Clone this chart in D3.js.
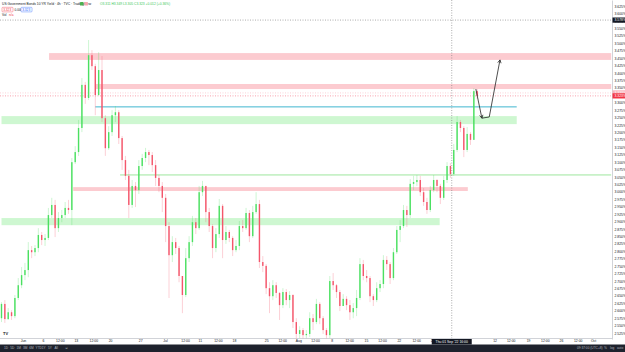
<!DOCTYPE html>
<html>
<head>
<meta charset="utf-8">
<script src="https://cdn.jsdelivr.net/npm/d3@7"></script>
<style>
    html, body {margin: 0; padding: 0; background: #fff;}
    svg {display: block; font-family: "Liberation Sans", Arial, sans-serif;}
</style>
</head>
<body>
<div id="chart"></div>
<script>
// US10Y, 4h chart, two candles per trading day (day 0 = 27 May 2022)
var firstOpen = 2.575;
var closes = [2.623, 2.572, 2.595, 2.582, 2.643, 2.686, 2.720, 2.737, 2.804, 2.797,
    2.811, 2.855, 2.838, 2.845, 2.922, 2.956, 2.878, 2.912, 2.922, 2.946,
    2.939, 3.100, 3.134, 3.215, 3.360, 3.316, 3.460, 3.423, 3.326, 3.410,
    3.248, 3.147, 3.201, 3.258, 3.268, 3.181, 3.107, 3.054, 2.956, 3.020,
    3.006, 3.087, 3.114, 3.134, 3.124, 3.090, 3.047, 3.020, 2.980, 2.885,
    2.787, 2.831, 2.811, 2.717, 2.653, 2.777, 2.831, 2.898, 2.878, 2.999,
    3.020, 2.932, 2.885, 2.811, 2.858, 2.953, 2.838, 2.865, 2.845, 2.804,
    2.818, 2.885, 2.878, 2.929, 2.851, 2.932, 2.959, 2.764, 2.751, 2.676,
    2.649, 2.686, 2.660, 2.619, 2.663, 2.636, 2.653, 2.562, 2.522, 2.535,
    2.518, 2.522, 2.575, 2.562, 2.623, 2.575, 2.535, 2.518, 2.700, 2.686,
    2.663, 2.616, 2.640, 2.619, 2.595, 2.609, 2.643, 2.757, 2.717, 2.710,
    2.649, 2.636, 2.676, 2.690, 2.771, 2.757, 2.710, 2.797, 2.872, 2.885,
    2.939, 2.922, 3.027, 3.033, 3.040, 2.999, 2.966, 2.939, 3.006, 3.040,
    3.020, 2.980, 3.040, 3.087, 3.060, 3.141, 3.235, 3.215, 3.141, 3.195,
    3.175, 3.339, 3.323];
var highs = [2.629, 2.636, 2.609, 2.602, 2.653, 2.710, 2.747, 2.761, 2.831, 2.818,
    2.821, 2.878, 2.865, 2.858, 2.946, 2.980, 2.973, 2.932, 2.939, 2.966,
    2.973, 3.114, 3.154, 3.242, 3.383, 3.370, 3.511, 3.477, 3.431, 3.470,
    3.457, 3.258, 3.221, 3.275, 3.289, 3.275, 3.188, 3.121, 3.074, 3.040,
    3.033, 3.107, 3.128, 3.148, 3.141, 3.134, 3.107, 3.057, 3.033, 2.993,
    2.898, 2.851, 2.845, 2.818, 2.703, 2.811, 2.851, 2.919, 2.912, 3.020,
    3.037, 3.020, 2.946, 2.891, 2.878, 2.976, 2.959, 2.885, 2.872, 2.851,
    2.838, 2.902, 2.905, 2.946, 2.939, 2.953, 2.999, 2.973, 2.784, 2.757,
    2.696, 2.703, 2.696, 2.663, 2.676, 2.673, 2.666, 2.656, 2.575, 2.548,
    2.542, 2.535, 2.595, 2.589, 2.640, 2.629, 2.582, 2.542, 2.717, 2.727,
    2.690, 2.670, 2.656, 2.649, 2.636, 2.626, 2.670, 2.777, 2.771, 2.737,
    2.717, 2.656, 2.696, 2.703, 2.787, 2.784, 2.764, 2.811, 2.885, 2.905,
    2.956, 2.953, 3.043, 3.054, 3.057, 3.054, 3.013, 2.980, 3.020, 3.057,
    3.043, 3.027, 3.054, 3.100, 3.097, 3.161, 3.255, 3.242, 3.221, 3.218,
    3.201, 3.349, 3.346];
var lows = [2.562, 2.559, 2.569, 2.569, 2.575, 2.636, 2.676, 2.703, 2.713, 2.777,
    2.784, 2.797, 2.821, 2.818, 2.838, 2.912, 2.848, 2.865, 2.898, 2.912,
    2.926, 2.888, 3.094, 3.121, 3.201, 3.296, 3.309, 3.410, 3.258, 3.323,
    3.235, 3.121, 3.141, 3.188, 3.235, 3.161, 3.074, 3.040, 2.912, 2.946,
    2.949, 2.993, 3.074, 3.100, 3.090, 3.067, 3.020, 2.999, 2.932, 2.831,
    2.643, 2.764, 2.791, 2.696, 2.592, 2.646, 2.764, 2.818, 2.858, 2.872,
    2.986, 2.898, 2.865, 2.777, 2.797, 2.845, 2.777, 2.825, 2.831, 2.784,
    2.797, 2.804, 2.865, 2.872, 2.831, 2.845, 2.926, 2.744, 2.730, 2.656,
    2.592, 2.636, 2.643, 2.569, 2.609, 2.619, 2.609, 2.542, 2.505, 2.508,
    2.505, 2.505, 2.512, 2.535, 2.555, 2.555, 2.522, 2.505, 2.508, 2.670,
    2.643, 2.599, 2.616, 2.602, 2.569, 2.575, 2.582, 2.636, 2.703, 2.696,
    2.629, 2.616, 2.629, 2.663, 2.676, 2.737, 2.690, 2.703, 2.791, 2.831,
    2.878, 2.882, 2.912, 3.006, 3.020, 2.986, 2.953, 2.926, 2.932, 2.999,
    2.999, 2.959, 2.973, 3.030, 3.047, 3.054, 3.134, 3.201, 3.117, 3.134,
    3.158, 3.175, 3.313];
var barsPerDay = 2;

// drawn levels: [priceTop, priceBottom, fromDay, toDay]
var redZones = [[3.467, 3.444, 7.1, 91], [3.363, 3.346, 14, 91], [3.016, 3.003, 10.7, 69.6]];
var greenZones = [[3.255, 3.228, 0, 76.9], [2.912, 2.888, 0, 65.4]];
var blueLine = [3.286, 14, 76.9];
var greenLine = [3.057, 17.7, 91];
// projected path: [day, price]
var arrowPath = [[70.8, 3.346], [71.7, 3.248], [72.8, 3.252], [74.4, 3.444]];

var timeLabels = ["Jun", "6", "12:00", "13", "12:00", "20", "27", "Jul", "12:00", "11", "12:00", "18",
    "25", "12:00", "Aug", "12:00", "8", "12:00", "15", "12:00", "22", "12:00", "29", "5", "12",
    "12:00", "19", "12:00", "26", "12:00", "Oct"];
var timeLabelDays = [3.2, 6.2, 8.7, 11.1, 13.7, 16.2, 20.7, 24.4, 27.4, 29.6, 32.3, 34.7,
    39.5, 41.9, 44.3, 46.8, 49.3, 51.9, 54.4, 56.8, 59.3, 61.9, 64.3, 69.6, 73.6,
    76, 78.6, 81.1, 83.5, 86, 88.3];
var priceTickStep = 0.025;
var crossDay = 67.2, crossPrice = 3.578;
var crossTimeText = "Thu 01 Sep '22  16:00";
var rangeButtons = ["1D", "5D", "1M", "3M", "6M", "YTD", "1Y", "5Y", "All"];

var width = 625, height = 352,
    plotRight = 612, plotBottom = 338.5, toolbarTop = 344.5;

var upColor = "#4be061", downColor = "#f4566b";

var svg = d3.select("#chart").append("svg")
    .attr("width", width)
    .attr("height", height);

var x = d3.scaleLinear().domain([0, 91]).range([1.5, 611.2]);
var y = d3.scaleLinear().domain([2.505, 3.6456]).range([339, 0]);

var candles = closes.map(function (c, i) {
    return {
        day: i / barsPerDay,
        open: i === 0 ? firstOpen : closes[i - 1],
        high: highs[i],
        low: lows[i],
        close: c
    };
});

var plot = svg.append("g");
plot.append("clipPath").attr("id", "clip")
    .append("rect").attr("width", plotRight).attr("height", plotBottom);
plot.attr("clip-path", "url(#clip)");

// zones
plot.selectAll(".rz").data(redZones).enter().append("rect")
    .attr("x", function (d) { return x(d[2]); })
    .attr("width", function (d) { return x(d[3]) - x(d[2]); })
    .attr("y", function (d) { return y(d[0]); })
    .attr("height", function (d) { return y(d[1]) - y(d[0]); })
    .attr("fill", "rgba(244,67,85,0.28)");
plot.selectAll(".gz").data(greenZones).enter().append("rect")
    .attr("x", function (d) { return x(d[2]); })
    .attr("width", function (d) { return x(d[3]) - x(d[2]); })
    .attr("y", function (d) { return y(d[0]); })
    .attr("height", function (d) { return y(d[1]) - y(d[0]); })
    .attr("fill", "rgba(80,226,90,0.28)");

plot.append("line")
    .attr("x1", x(blueLine[1])).attr("x2", x(blueLine[2]))
    .attr("y1", y(blueLine[0])).attr("y2", y(blueLine[0]))
    .attr("stroke", "#2aaec9").attr("stroke-width", 0.9);
plot.append("line")
    .attr("x1", x(greenLine[1])).attr("x2", x(greenLine[2]))
    .attr("y1", y(greenLine[0])).attr("y2", y(greenLine[0]))
    .attr("stroke", "#72dc72").attr("stroke-width", 0.7);

// crosshair + price lines
plot.append("line")
    .attr("x1", 0).attr("x2", plotRight)
    .attr("y1", y(crossPrice)).attr("y2", y(crossPrice))
    .attr("stroke", "#777").attr("stroke-width", 0.6).attr("stroke-dasharray", "1,1.5");
plot.append("line")
    .attr("x1", x(crossDay)).attr("x2", x(crossDay))
    .attr("y1", 0).attr("y2", plotBottom)
    .attr("stroke", "#777").attr("stroke-width", 0.6).attr("stroke-dasharray", "1,1.5");
var lastClose = closes[closes.length - 1];
plot.append("line")
    .attr("x1", 0).attr("x2", plotRight)
    .attr("y1", y(lastClose + 0.01)).attr("y2", y(lastClose + 0.01))
    .attr("stroke", "#f7a8b0").attr("stroke-width", 0.5).attr("stroke-dasharray", "1,1.5");
plot.append("line")
    .attr("x1", 0).attr("x2", plotRight)
    .attr("y1", y(lastClose)).attr("y2", y(lastClose))
    .attr("stroke", "#f2475c").attr("stroke-width", 0.5).attr("stroke-dasharray", "1,1.5");

// candles
var bar = plot.append("g").selectAll("g").data(candles).enter().append("g");
bar.append("line")
    .attr("x1", function (d) { return x(d.day); })
    .attr("x2", function (d) { return x(d.day); })
    .attr("y1", function (d) { return y(d.high); })
    .attr("y2", function (d) { return y(d.low); })
    .attr("stroke", function (d) { return d.close >= d.open ? upColor : downColor; })
    .attr("stroke-opacity", 0.4)
    .attr("stroke-width", 0.7);
bar.append("rect")
    .attr("x", function (d) { return x(d.day) - 0.7; })
    .attr("width", 1.4)
    .attr("y", function (d) { return y(Math.max(d.open, d.close)); })
    .attr("height", function (d) { return Math.max(0.8, Math.abs(y(d.open) - y(d.close))); })
    .attr("fill", function (d) { return d.close >= d.open ? upColor : downColor; });

// arrow
var line = d3.line()
    .x(function (d) { return x(d[0]); })
    .y(function (d) { return y(d[1]); });
plot.append("path").attr("d", line(arrowPath))
    .attr("fill", "none").attr("stroke", "#222").attr("stroke-width", 0.8);
function head(p, q) {
    var x1 = x(p[0]), y1 = y(p[1]), x2 = x(q[0]), y2 = y(q[1]);
    var a = Math.atan2(y2 - y1, x2 - x1), s = 3.5;
    plot.append("path")
        .attr("d", "M" + (x2 - s * Math.cos(a - 0.5)) + "," + (y2 - s * Math.sin(a - 0.5)) +
            "L" + x2 + "," + y2 +
            "L" + (x2 - s * Math.cos(a + 0.5)) + "," + (y2 - s * Math.sin(a + 0.5)))
        .attr("fill", "none").attr("stroke", "#222").attr("stroke-width", 0.8);
}
head(arrowPath[0], arrowPath[1]);
head(arrowPath[2], arrowPath[3]);

// price axis
var fmt = d3.format(".3f");
svg.append("g")
    .attr("transform", "translate(" + plotRight + ",0)")
    .call(d3.axisRight(y)
        .tickValues(d3.range(2.525, 3.64, priceTickStep))
        .tickSize(0).tickPadding(2.5)
        .tickFormat(function (d) { return fmt(d) + "%"; }))
    .call(function (g) {
        g.select(".domain").attr("stroke", "#b2b5be").attr("stroke-width", 0.6);
        g.selectAll("text").attr("font-size", 3.4).attr("fill", "#131722");
    });

function priceTag(p, bg, fg) {
    svg.append("rect").attr("x", plotRight + 0.5).attr("y", y(p) - 2.6)
        .attr("width", 13).attr("height", 5.2).attr("fill", bg);
    svg.append("text").attr("x", plotRight + 2.5).attr("y", y(p) + 1.2)
        .attr("font-size", 3.4).attr("fill", fg).text(fmt(p) + "%");
}
priceTag(crossPrice, "#131722", "#fff");
priceTag(lastClose + 0.01, "#f9b3bb", "#fff");
priceTag(lastClose, "#f23645", "#fff");

// time axis
svg.append("line").attr("x1", 0).attr("x2", plotRight)
    .attr("y1", plotBottom).attr("y2", plotBottom)
    .attr("stroke", "#b2b5be").attr("stroke-width", 0.6);
svg.append("g")
    .attr("transform", "translate(0," + plotBottom + ")")
    .call(d3.axisBottom(x)
        .tickValues(timeLabelDays)
        .tickSize(0).tickPadding(1.5)
        .tickFormat(function (d, i) { return timeLabels[i]; }))
    .call(function (g) {
        g.select(".domain").remove();
        g.selectAll("text").attr("font-size", 3.4).attr("fill", "#131722");
    });
svg.append("rect").attr("x", x(crossDay) - 20).attr("y", plotBottom + 0.5)
    .attr("width", 40).attr("height", 5.5).attr("fill", "#131722");
svg.append("text").attr("x", x(crossDay)).attr("y", plotBottom + 4.4)
    .attr("text-anchor", "middle").attr("font-size", 3.4).attr("fill", "#fff")
    .text(crossTimeText);

// header
svg.append("text").attr("x", 2).attr("y", 5).attr("font-size", 3.3).attr("fill", "#131722")
    .text("US Government Bonds 10 YR Yield · 4h · TVC · TradingView");
svg.append("rect").attr("x", 80).attr("y", 2).attr("width", 3.5).attr("height", 3.5)
    .attr("fill", "#4caf50").attr("rx", 0.6);
svg.append("rect").attr("x", 84.5).attr("y", 2).attr("width", 3.5).attr("height", 3.5)
    .attr("fill", "#f7a8b0").attr("rx", 0.6);
svg.append("text").attr("x", 100).attr("y", 5).attr("font-size", 3.3).attr("fill", "#3cc85a")
    .text("O3.311 H3.349 L3.305 C3.323 +0.012 (+0.36%)");
svg.append("rect").attr("x", 2).attr("y", 7.3).attr("width", 11).attr("height", 4.6)
    .attr("fill", "#fff").attr("stroke", "#f23645").attr("stroke-width", 0.4).attr("rx", 0.8);
svg.append("text").attr("x", 3.2).attr("y", 10.7).attr("font-size", 3.2).attr("fill", "#f23645").text("3.323");
svg.append("text").attr("x", 14.5).attr("y", 10.7).attr("font-size", 3.2).attr("fill", "#131722").text("0.000");
svg.append("rect").attr("x", 21).attr("y", 7.3).attr("width", 11).attr("height", 4.6)
    .attr("fill", "#fff").attr("stroke", "#2962ff").attr("stroke-width", 0.4).attr("rx", 0.8);
svg.append("text").attr("x", 22.2).attr("y", 10.7).attr("font-size", 3.2).attr("fill", "#2962ff").text("3.323");
svg.append("text").attr("x", 2).attr("y", 16).attr("font-size", 3.2).attr("fill", "#131722").text("Vol");
svg.append("text").attr("x", 9).attr("y", 16).attr("font-size", 3.2).attr("fill", "#f23645").text("n/a");

// logo
svg.append("text").attr("x", 3).attr("y", 334.5).attr("font-size", 4).attr("font-weight", "bold")
    .attr("fill", "#131722").text("TV");

// bottom toolbar
svg.append("rect").attr("x", 0).attr("y", toolbarTop).attr("width", width).attr("height", height - toolbarTop)
    .attr("fill", "#1e222d");
svg.append("g").selectAll("text").data(rangeButtons).enter().append("text")
    .attr("x", function (d, i) { return 4 + i * 6.3; })
    .attr("y", toolbarTop + 4.6)
    .attr("font-size", 3.2).attr("fill", "#b2b5be")
    .text(function (d) { return d; });
svg.append("text").attr("x", 65).attr("y", toolbarTop + 4.6).attr("font-size", 3.2)
    .attr("fill", "#b2b5be").text("⇲");
svg.append("text").attr("x", 577).attr("y", toolbarTop + 4.6).attr("font-size", 3.2)
    .attr("fill", "#b2b5be").text("09:37:00 (UTC+8)");
svg.append("text").attr("x", 604).attr("y", toolbarTop + 4.6).attr("font-size", 3.2)
    .attr("fill", "#b2b5be").text("%");
svg.append("text").attr("x", 610).attr("y", toolbarTop + 4.6).attr("font-size", 3.2)
    .attr("fill", "#b2b5be").text("log");
svg.append("text").attr("x", 617).attr("y", toolbarTop + 4.6).attr("font-size", 3.2)
    .attr("fill", "#b2b5be").text("auto");
</script>
</body>
</html>
